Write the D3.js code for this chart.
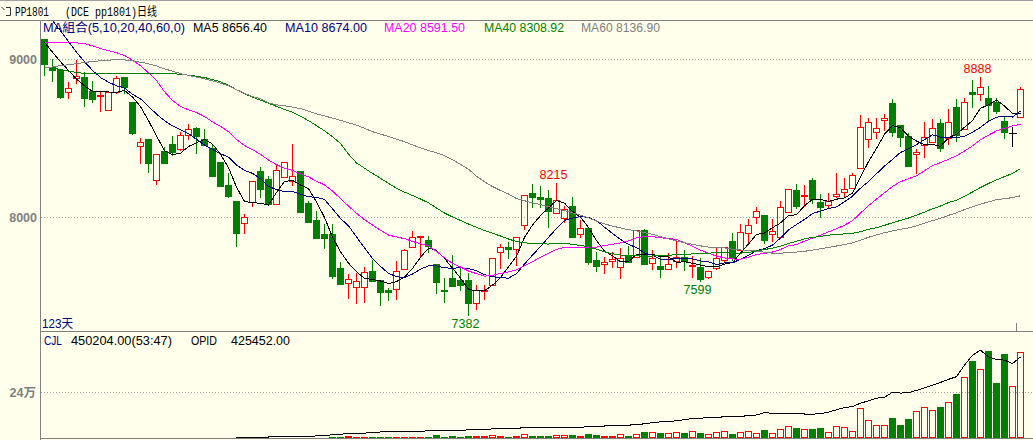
<!DOCTYPE html>
<html><head><meta charset="utf-8">
<script src="https://cdn.jsdelivr.net/npm/d3@7"></script>
<style>
html,body{margin:0;padding:0;background:#FFFFEC;}
svg{display:block;}
</style></head><body>
<svg id="c" width="1033" height="440"></svg>
<script>
// ---------------- DATA ----------------
const opens = [9127,8949,8930,8791,8880,8888,8800,8766,8677,8795,
8886,8730,8449,8496,8234,8418,8464,8435,8523,8563,
8496,8441,8352,8205,8103,7962,8095,8293,8243,8082,
8255,8232,8293,8093,7983,7894,7894,7679,7582,7561,
7561,7660,7603,7540,7544,7671,7810,7873,7856,7702,
7540,7614,7603,7603,7460,7532,7572,7778,7810,7797,
7951,8152,8127,8120,8029,7998,8072,7894,7932,7730,
7702,7726,7688,7757,7751,7920,7709,7692,7673,7726,
7747,7692,7684,7624,7677,7730,7850,7793,7899,8000,
8015,7892,7878,8036,8173,8137,8236,8099,8078,8137,
8162,8183,8310,8494,8538,8616,8721,8584,8515,8399,
8458,8479,8595,8500,8696,8557,8795,8781,8753,8732,
8610,8536,8633];
const highs = [9127,9000,8930,8859,8996,8922,8863,8795,8800,8897,
8886,8730,8504,8496,8399,8443,8515,8538,8589,8574,
8557,8458,8352,8278,8103,8019,8228,8321,8264,8335,
8348,8462,8293,8101,8040,7956,7956,7715,7639,7645,
7683,7730,7603,7550,7726,7799,7913,7882,7882,7702,
7614,7761,7688,7645,7572,7572,7740,7829,7846,7873,
8141,8211,8198,8173,8215,8074,8131,7983,7932,7783,
7747,7783,7804,7818,7920,7925,7793,7751,7772,7856,
7793,7757,7741,7660,7814,7814,7899,7960,7987,8067,
8015,7987,8105,8177,8211,8205,8247,8148,8156,8278,
8251,8278,8648,8627,8627,8654,8749,8584,8532,8432,
8601,8620,8620,8686,8747,8753,8869,8888,8831,8753,
8633,8574,8823];
const lows = [8901,8862,8754,8757,8848,8705,8728,8675,8677,8785,
8785,8526,8346,8289,8209,8346,8395,8426,8494,8409,
8458,8264,8200,8131,7821,7903,8074,8131,8082,8082,
8255,8205,8036,7970,7867,7804,7614,7578,7491,7456,
7466,7599,7445,7477,7481,7671,7810,7751,7783,7519,
7466,7565,7540,7382,7418,7481,7572,7677,7740,7698,
7924,8063,8067,7941,8029,7973,7873,7878,7702,7662,
7646,7683,7618,7715,7751,7705,7671,7624,7673,7688,
7667,7624,7599,7614,7671,7715,7730,7793,7846,7962,
7840,7850,7878,8036,8057,8072,8089,8004,8057,8131,
8137,8183,8310,8443,8500,8553,8515,8451,8327,8283,
8380,8479,8422,8464,8485,8557,8700,8743,8616,8662,
8500,8449,8633];
const closes = [8968,8932,8764,8816,8897,8757,8747,8774,8793,8880,
8823,8536,8475,8346,8399,8346,8416,8523,8557,8515,
8458,8264,8200,8137,7899,8000,8228,8181,8082,8297,
8348,8259,8036,7970,7867,7867,7629,7578,7610,7595,
7652,7599,7529,7529,7658,7793,7873,7882,7818,7593,
7532,7565,7572,7460,7540,7540,7740,7814,7797,7873,
8141,8131,8114,8040,8108,8055,7873,7930,7715,7694,
7715,7734,7740,7715,7920,7705,7745,7671,7702,7751,
7726,7698,7608,7660,7740,7814,7745,7909,7949,8042,
7857,7913,8063,8177,8074,8141,8114,8067,8105,8148,
8179,8268,8570,8601,8563,8627,8542,8506,8327,8411,
8506,8563,8437,8601,8521,8728,8778,8823,8711,8675,
8538,8536,8810];
const volumes = [800,600,900,700,500,600,800,700,600,900,
700,1000,900,800,700,800,900,1000,800,900,
1100,1000,1200,1300,1500,1400,1600,1800,1500,1700,
1600,1900,2000,1800,2100,2200,4000,4000,10000,4000,
4000,4000,4000,4000,4000,4000,4000,4000,4000,15000,
4000,10000,4000,10000,10000,10000,15000,10000,4000,10000,
21000,12000,12000,12000,17000,17000,17000,12000,22000,17000,
12000,12000,22000,12000,22000,33000,33000,28000,28000,33000,
28000,38000,28000,22000,33000,38000,22000,33000,38000,28000,
43000,28000,49000,64000,54000,47000,49000,54000,33000,64000,
59000,38000,158000,94000,69000,69000,106000,69000,101000,142000,
163000,148000,165000,189000,231000,320000,405000,362000,458000,289000,
440000,271000,450204];
const openInterest = [null,null,null,null,null,null,null,null,null,null,
null,null,null,null,null,null,null,null,null,null,
null,null,null,null,4000,4500,5000,5000,5200,5500,
5500,6000,6500,8000,11000,13000,17000,20000,23000,26000,
26000,27000,32000,33000,33000,33000,34000,35000,38000,38000,
38000,38000,40000,43000,43000,44000,48000,48000,50000,52000,
53000,53000,53000,53000,53000,53000,54000,56000,60000,63000,
63000,64000,68000,68000,69000,75000,80000,85000,86000,91000,
96000,102000,104000,107000,109000,111000,112000,114000,117000,121000,
133000,130000,131000,130000,130000,126000,125000,128000,136000,148000,
160000,165000,183000,195000,209000,214000,240000,236000,238000,250000,
264000,278000,292000,308000,322000,383000,435000,461000,426000,412000,
409000,391000,425452];
// moving-average values for the first days (before a full window exists)
const ma5Head = [9108,9045,8985,8930];
const ma10Head = [9310,9245,9180,9112,9045,8985,8930,8885,8855];
const ma20Head = [9108,9108,9107,9106,9104,9100,9085,9068,9055,9042,9025,8995,8960,8915,8865,8795,8740,8702,8680];
const ma40Head = [8952,8945,8935,8925,8917,8911,8908,8908,8909,8910,8911,8911,8911,8912,8912,8912,8910,8905,8900,8893,
8885,8872,8858,8836,8808,8782,8760,8742,8722,8702,8683,8665,8640,8612,8580,8548,8510,8468,8400];
const ma60Head = [8945,8952,8960,8966,8972,8980,8986,8991,8995,8997,8996,8990,8982,8972,8958,8940,8925,8910,8898,8888,
8876,8864,8850,8832,8808,8785,8765,8750,8725,8712,8706,8698,8688,8672,8655,8642,8628,8614,8598,8584,
8563,8542,8527,8511,8495,8479,8458,8440,8422,8409,8390,8365,8335,8305,8260,8225,8195,8170,8148];
const maPeriods = [5,10,20,40,60];
const maLabels = ["MA5","MA10","MA20","MA40","MA60"];
const maValueTexts = ["8656.40","8674.00","8591.50","8308.92","8136.90"];
const maTitle = "MA組合(5,10,20,40,60,0)";
const priceTicks = [8000, 9000];
const volumeTicks = [240000];
const volumeTickLabels = ["24万"];
const titleCode = "PP1801";
const titleName = "(DCE pp1801)日线";
const dayCountText = "123天";
const volLegend = ["CJL","450204.00(53:47)","OPID","425452.00"];
const highMarks = [64, 117];
const lowMarks = [53, 82];

// ---------------- STYLE / LAYOUT ----------------
const W = 1033, H = 440;
const BG = "#FFFFEC", GRAY = "#808080", RED = "#FF0000", GREEN = "#008000";
const maColors = ["#000000","#000080","#FF00FF","#008000","#808080"];
const maHeads = [ma5Head, ma10Head, ma20Head, ma40Head, ma60Head];
const legendX = [193, 285, 384, 484, 581];
const legendW = [74, 82, 81, 80, 79];
const SANS = "'Liberation Sans','Noto Sans CJK SC',sans-serif";

const svg = d3.select("#c");
svg.append("rect").attr("width", W).attr("height", H).attr("fill", BG);

const n = closes.length;
const x = d3.scaleLinear().domain([0, n - 1]).range([44.5, 1020.5]);
const y = d3.scaleLinear().domain([8000, 9000]).range([217.33, 59.33]);
const yv = d3.scaleLinear().domain([0, 240000]).range([438, 392.3]);
const py = v => Math.round(y(v));

const defs = svg.append("defs");
defs.append("clipPath").attr("id", "mainClip").append("rect")
  .attr("x", 41).attr("y", 21).attr("width", W - 41).attr("height", 310);
defs.append("clipPath").attr("id", "volClip").append("rect")
  .attr("x", 41).attr("y", 333).attr("width", W - 41).attr("height", 105);

// frame
const frame = svg.append("g").attr("stroke", GRAY).attr("shape-rendering", "crispEdges");
frame.append("line").attr("x1", 0).attr("x2", W).attr("y1", 0.5).attr("y2", 0.5).attr("stroke", "#A0A0A0");
frame.append("line").attr("x1", 0).attr("x2", W).attr("y1", 20.5).attr("y2", 20.5);
frame.append("line").attr("x1", 40).attr("x2", W).attr("y1", 331.5).attr("y2", 331.5);
frame.append("line").attr("x1", 40).attr("x2", W).attr("y1", 438.5).attr("y2", 438.5);
frame.append("line").attr("x1", 40.5).attr("x2", 40.5).attr("y1", 20).attr("y2", H);
frame.append("line").attr("x1", 1016.5).attr("x2", 1016.5).attr("y1", 323).attr("y2", 331);

// grid lines
svg.append("g").selectAll("line").data(priceTicks).join("line")
  .attr("x1", 41).attr("x2", W)
  .attr("y1", d => py(d) + 0.5).attr("y2", d => py(d) + 0.5)
  .attr("stroke", "#A8A8A8").attr("stroke-dasharray", "1,2").attr("shape-rendering", "crispEdges");
svg.append("g").selectAll("line").data(volumeTicks).join("line")
  .attr("x1", 41).attr("x2", W)
  .attr("y1", d => Math.round(yv(d)) + 0.5).attr("y2", d => Math.round(yv(d)) + 0.5)
  .attr("stroke", "#A8A8A8").attr("stroke-dasharray", "1,2").attr("shape-rendering", "crispEdges");

// axes
const axP = svg.append("g").attr("transform", "translate(40,0)")
  .call(d3.axisLeft(y).tickValues(priceTicks).tickSize(0).tickPadding(3).tickFormat(d3.format("d")));
axP.select(".domain").remove();
axP.selectAll("text").attr("fill", GRAY).attr("font-weight", "bold")
  .attr("font-family", SANS).attr("font-size", 12.5);
const axV = svg.append("g").attr("transform", "translate(40,0)")
  .call(d3.axisLeft(yv).tickValues(volumeTicks).tickSize(0).tickPadding(4)
    .tickFormat((d, i) => volumeTickLabels[i]));
axV.select(".domain").remove();
axV.selectAll("text").attr("fill", GRAY).attr("font-weight", "bold")
  .attr("font-family", SANS).attr("font-size", 12.5);

// candles
const idx = d3.range(n);
const cg = svg.append("g").attr("clip-path", "url(#mainClip)").attr("shape-rendering", "crispEdges");
idx.forEach(i => {
  const o = opens[i], c = closes[i], X = x(i);
  const top = py(Math.max(o, c)), bot = py(Math.min(o, c));
  const yh = py(highs[i]), yl = py(lows[i]);
  if (o === c) {
    cg.append("line").attr("x1", X).attr("x2", X).attr("y1", yh).attr("y2", yl + 1).attr("stroke", "#000");
    cg.append("line").attr("x1", X - 3.5).attr("x2", X + 4.5).attr("y1", top + 0.5).attr("y2", top + 0.5).attr("stroke", "#000");
  } else if (c > o) {
    if (yh < top) cg.append("line").attr("x1", X).attr("x2", X).attr("y1", yh).attr("y2", top).attr("stroke", RED);
    if (yl > bot) cg.append("line").attr("x1", X).attr("x2", X).attr("y1", bot + 1).attr("y2", yl + 1).attr("stroke", RED);
    if (bot - top < 1) {
      cg.append("rect").attr("x", X - 3.5).attr("y", top).attr("width", 7).attr("height", 1).attr("fill", RED);
    } else {
      cg.append("rect").attr("x", X - 3).attr("y", top + 0.5).attr("width", 6).attr("height", bot - top)
        .attr("fill", "none").attr("stroke", RED);
    }
  } else {
    cg.append("line").attr("x1", X).attr("x2", X).attr("y1", yh).attr("y2", yl + 1).attr("stroke", GREEN);
    cg.append("rect").attr("x", X - 3.5).attr("y", top).attr("width", 7).attr("height", bot - top + 1).attr("fill", GREEN);
  }
});

// moving averages
const maSeries = maPeriods.map((p, k) => closes.map((c, i) =>
  i < p - 1 ? maHeads[k][i] : d3.mean(closes.slice(i - p + 1, i + 1))));
const lineGen = d3.line().x((d, i) => x(i)).y(d => y(d));
svg.append("g").attr("clip-path", "url(#mainClip)").selectAll("path").data(maSeries).join("path")
  .attr("d", lineGen).attr("fill", "none").attr("stroke", (d, k) => maColors[k]).attr("stroke-width", 1)
  .attr("shape-rendering", "crispEdges");

// high / low marks
const mg = svg.append("g").attr("font-family", SANS).attr("font-size", 12.5).attr("text-anchor", "middle");
mg.selectAll("text.h").data(highMarks).join("text").attr("class", "h")
  .attr("x", i => x(i) - 3).attr("y", i => y(highs[i]) - 4.5).attr("fill", RED).text(i => highs[i]);
mg.selectAll("text.l").data(lowMarks).join("text").attr("class", "l")
  .attr("x", i => x(i) - 3).attr("y", i => y(lows[i]) + 13.5).attr("fill", GREEN).text(i => lows[i]);

// volume bars
const vg = svg.append("g").attr("clip-path", "url(#volClip)").attr("shape-rendering", "crispEdges");
idx.forEach(i => {
  const X = x(i), top = Math.round(yv(volumes[i])), h = 438 - top;
  if (h < 1) return;
  const up = closes[i] >= opens[i];
  if (!up) {
    vg.append("rect").attr("x", X - 3.5).attr("y", top).attr("width", 7).attr("height", h).attr("fill", GREEN);
  } else if (h <= 1) {
    vg.append("rect").attr("x", X - 3.5).attr("y", top).attr("width", 7).attr("height", 1).attr("fill", RED);
  } else {
    vg.append("rect").attr("x", X - 3).attr("y", top + 0.5).attr("width", 6).attr("height", h - 1)
      .attr("fill", "none").attr("stroke", RED);
  }
});
// open interest line
svg.append("path").attr("clip-path", "url(#volClip)").datum(openInterest)
  .attr("d", d3.line().defined(d => d != null).x((d, i) => x(i)).y(d => yv(d)))
  .attr("fill", "none").attr("stroke", "#000").attr("stroke-width", 1).attr("shape-rendering", "crispEdges");

// legends
const lg = svg.append("g").attr("font-family", SANS).attr("font-size", 12.5);
lg.append("text").attr("x", 43).attr("y", 32).attr("fill", "#000080")
  .attr("textLength", 142).attr("lengthAdjust", "spacingAndGlyphs").text(maTitle);
lg.selectAll("text.ma").data(maLabels).join("text").attr("class", "ma")
  .attr("x", (d, k) => legendX[k]).attr("y", 32).attr("fill", (d, k) => maColors[k])
  .attr("textLength", (d, k) => legendW[k]).attr("lengthAdjust", "spacingAndGlyphs")
  .text((d, k) => d + " " + maValueTexts[k]);
lg.append("text").attr("x", 42).attr("y", 327.5).attr("fill", "#000080")
  .attr("textLength", 31).attr("lengthAdjust", "spacingAndGlyphs").text(dayCountText);
const vlX = [44, 71, 191, 231], vlW = [18, 101, 26, 59], vlC = ["#000080", "#000", "#000", "#000"];
lg.selectAll("text.vl").data(volLegend).join("text").attr("class", "vl")
  .attr("x", (d, k) => vlX[k]).attr("y", 345).attr("fill", (d, k) => vlC[k])
  .attr("textLength", (d, k) => vlW[k]).attr("lengthAdjust", "spacingAndGlyphs").text(d => d);

// title
const tg = svg.append("g").attr("font-family", "'Liberation Mono','Noto Sans CJK SC',monospace").attr("font-size", 12.5);
tg.append("text").attr("x", 15).attr("y", 15.5).attr("fill", "#000")
  .attr("textLength", 34).attr("lengthAdjust", "spacingAndGlyphs").text(titleCode);
tg.append("text").attr("x", 65).attr("y", 15.5).attr("fill", "#000")
  .attr("textLength", 92).attr("lengthAdjust", "spacingAndGlyphs").text(titleName);
svg.append("path").attr("d", "M1.5,7 L4.5,10 M6,7.5 H10.5 V15.5 H6")
  .attr("fill", "none").attr("stroke", "#333").attr("stroke-width", 1);
</script>
</body></html>
